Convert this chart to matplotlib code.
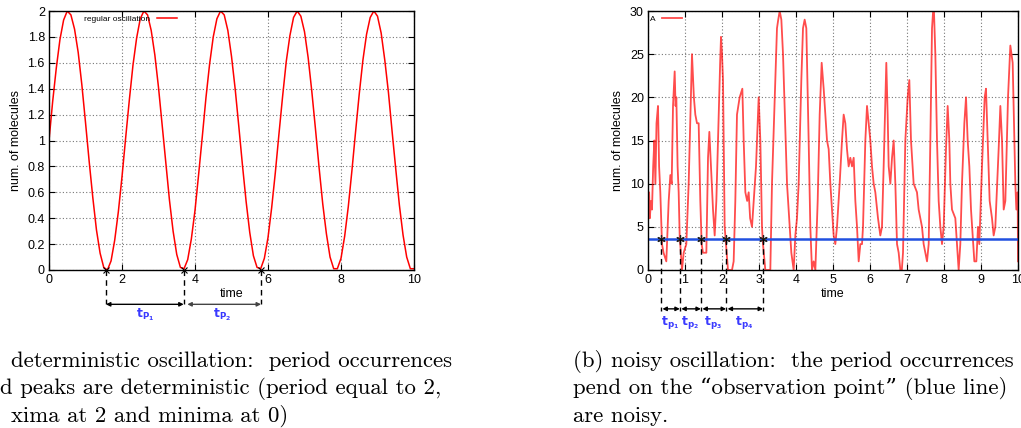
import numpy as np
import matplotlib
matplotlib.use('Agg')
import matplotlib.pyplot as plt

# ---- data ----
# left panel: regular oscillation sampled every 0.1 time units
reg_t = [i / 10 for i in range(101)]
reg_y = [1.00, 1.30, 1.56, 1.78, 1.93, 2.00, 1.97, 1.86, 1.68, 1.43,
         1.14, 0.84, 0.56, 0.31, 0.13, 0.02, 0.00, 0.07, 0.23, 0.45,
         0.72, 1.02, 1.31, 1.58, 1.79, 1.94, 2.00, 1.97, 1.85, 1.66,
         1.41, 1.12, 0.83, 0.54, 0.30, 0.12, 0.02, 0.01, 0.08, 0.24,
         0.46, 0.74, 1.03, 1.33, 1.59, 1.80, 1.94, 2.00, 1.97, 1.85,
         1.65, 1.40, 1.11, 0.81, 0.53, 0.29, 0.11, 0.02, 0.01, 0.09,
         0.25, 0.48, 0.75, 1.05, 1.34, 1.61, 1.81, 1.95, 2.00, 1.96,
         1.84, 1.64, 1.38, 1.09, 0.79, 0.51, 0.28, 0.10, 0.01, 0.01,
         0.09, 0.26, 0.49, 0.77, 1.07, 1.36, 1.62, 1.82, 1.95, 2.00,
         1.96, 1.83, 1.62, 1.37, 1.07, 0.78, 0.50, 0.27, 0.10, 0.01,
         0.01]
reg_minima = [1.56, 3.69, 5.81]
reg_labels = [r'$\mathbf{t_{P_1}}$', r'$\mathbf{t_{P_2}}$']

# right panel: noisy trace of species A (turning points)
noisy_t = [0.000, 0.030, 0.050, 0.080, 0.108, 0.140, 0.171, 0.200, 0.230, 0.270,
           0.300, 0.333, 0.378, 0.420, 0.495, 0.559, 0.604, 0.640, 0.676, 0.721,
           0.745, 0.766, 0.800, 0.829, 0.856, 0.919, 0.964, 1.036, 1.099, 1.189,
           1.240, 1.279, 1.324, 1.369, 1.414, 1.450, 1.486, 1.577, 1.622, 1.658,
           1.703, 1.757, 1.802, 1.847, 1.910, 1.950, 1.973, 2.000, 2.027, 2.072,
           2.108, 2.162, 2.270, 2.315, 2.360, 2.405, 2.477, 2.550, 2.586, 2.631,
           2.680, 2.721, 2.760, 2.811, 2.856, 2.919, 2.964, 2.991, 3.036, 3.081,
           3.108, 3.171, 3.306, 3.351, 3.441, 3.486, 3.520, 3.559, 3.604, 3.649,
           3.685, 3.757, 3.829, 3.874, 3.937, 3.982, 4.027, 4.072, 4.144, 4.189,
           4.234, 4.279, 4.342, 4.387, 4.432, 4.477, 4.523, 4.586, 4.640, 4.694,
           4.748, 4.793, 4.838, 4.883, 4.928, 4.973, 5.018, 5.063, 5.108, 5.180,
           5.243, 5.288, 5.333, 5.378, 5.423, 5.468, 5.514, 5.559, 5.604, 5.649,
           5.694, 5.739, 5.784, 5.811, 5.874, 5.919, 5.964, 6.009, 6.054, 6.099,
           6.144, 6.216, 6.279, 6.324, 6.369, 6.441, 6.477, 6.505, 6.550, 6.595,
           6.640, 6.685, 6.730, 6.775, 6.820, 6.860, 6.892, 6.955, 7.018, 7.063,
           7.108, 7.180, 7.270, 7.315, 7.360, 7.405, 7.450, 7.495, 7.541, 7.586,
           7.631, 7.676, 7.721, 7.766, 7.811, 7.856, 7.901, 7.946, 7.991, 8.054,
           8.099, 8.144, 8.171, 8.216, 8.306, 8.351, 8.396, 8.441, 8.486, 8.550,
           8.595, 8.640, 8.685, 8.730, 8.775, 8.820, 8.874, 8.919, 8.955, 9.027,
           9.099, 9.135, 9.180, 9.234, 9.297, 9.342, 9.387, 9.477, 9.523, 9.568,
           9.613, 9.658, 9.730, 9.793, 9.856, 9.901, 9.928, 9.955, 9.991, 10.000]
noisy_a = [7, 9, 6, 8, 7, 12, 15, 10, 17, 19,
           12, 9, 3, 2, 1, 8, 11, 10, 19, 23,
           19, 20, 12, 9, 4, 0, 2, 3, 10, 25,
           20, 18, 17, 17, 8, 3, 2, 2, 13, 16,
           12, 7, 4, 8, 18, 24, 27, 25, 22, 5,
           3, 0, 0, 1, 8, 18, 20, 21, 15, 9,
           8, 9, 6, 5, 8, 12, 17, 20, 15, 5,
           3, 0, 0, 10, 22, 28, 29, 30, 29, 25,
           20, 10, 5, 2, 0, 4, 6, 10, 22, 28,
           29, 28, 15, 5, 0, 1, 0, 8, 18, 24,
           21, 18, 15, 14, 10, 7, 4, 3, 5, 10,
           15, 18, 17, 14, 12, 13, 12, 13, 8, 5,
           1, 3, 3, 5, 15, 19, 17, 15, 12, 10,
           9, 6, 4, 5, 12, 24, 18, 12, 10, 13,
           15, 10, 3, 2, 0, 0, 2, 15, 20, 22,
           15, 10, 9, 7, 6, 5, 3, 2, 1, 3,
           15, 28, 31, 25, 15, 8, 5, 3, 5, 14,
           19, 15, 10, 7, 6, 3, 0, 3, 10, 17,
           20, 15, 12, 7, 4, 1, 1, 5, 3, 12,
           20, 21, 15, 8, 6, 4, 5, 14, 19, 15,
           7, 8, 20, 26, 24, 15, 10, 7, 9, 1]
obs_level = 3.6
obs_cross = [0.35, 0.86, 1.43, 2.11, 3.11]
noisy_labels = [r'$\mathbf{t_{p_1}}$', r'$\mathbf{t_{p_2}}$',
                r'$\mathbf{t_{p_3}}$', r'$\mathbf{t_{p_4}}$']

cap_a = ['deterministic oscillation:  period occurrences',
         'd peaks are deterministic (period equal to 2,',
         'xima at 2 and minima at 0)']
cap_b = ['(b) noisy oscillation:  the period occurrences',
         'pend on the \u201cobservation point\u201d (blue line)',
         'are noisy.']

plt.rcParams['font.family'] = ['Liberation Sans', 'DejaVu Sans']
plt.rcParams['font.size'] = 9
blue_lbl = '#3a3aff'

fig = plt.figure(figsize=(10.21, 4.28), dpi=100)
ax1 = fig.add_axes([49 / 1021, 158 / 428, 365 / 1021, 259 / 428])
ax2 = fig.add_axes([648 / 1021, 158 / 428, 370 / 1021, 259 / 428])


def gnuplot_frame(ax):
    ax.grid(True, color='#777777', linestyle=(0, (1, 2)), linewidth=0.8)
    ax.tick_params(direction='in', top=True, right=True, length=4, width=0.8,
                   labelsize=9, pad=3)
    for s in ax.spines.values():
        s.set_linewidth(1.0)
    ax.set_xlabel('time', labelpad=1)
    ax.set_ylabel('num. of molecules', labelpad=4)


# ---- left panel ----
ax1.plot(reg_t, reg_y, color='red', lw=1.1, label='regular oscillation')
ax1.set_xlim(0, 10)
ax1.set_ylim(0, 2)
ax1.set_xticks(range(0, 11, 2))
ax1.set_yticks(np.arange(0, 2.01, 0.2))
ax1.set_yticklabels(['0', '0.2', '0.4', '0.6', '0.8', '1', '1.2', '1.4',
                     '1.6', '1.8', '2'])
gnuplot_frame(ax1)
ax1.legend(loc='upper left', bbox_to_anchor=(0.08, 1.008), frameon=False,
           markerfirst=False, fontsize=6, handlelength=2.4, borderpad=0.2)

for x in reg_minima:
    ax1.plot([x], [0], marker='x', color='black', ms=4, mew=0.8, clip_on=False)
    ax1.plot([x, x], [0, -0.26], color='black', ls=(0, (4, 3)), lw=1,
             clip_on=False)
ya = -0.265
ax1.annotate('', xy=(reg_minima[1], ya), xytext=(reg_minima[0], ya),
             arrowprops=dict(arrowstyle='<|-|>', color='black', lw=1,
                             shrinkA=0, shrinkB=0, mutation_scale=6),
             annotation_clip=False)
ax1.annotate('', xy=(reg_minima[2], ya), xytext=(reg_minima[1] + 0.1, ya),
             arrowprops=dict(arrowstyle='<|-|>', color='#444444', lw=1,
                             shrinkA=0, shrinkB=0, mutation_scale=6),
             annotation_clip=False)
for i, lbl in enumerate(reg_labels):
    xm = (reg_minima[i] + reg_minima[i + 1]) / 2
    ax1.text(xm, -0.285, lbl, color=blue_lbl, fontsize=9, ha='center', va='top',
             clip_on=False)

# ---- right panel ----
ax2.plot(noisy_t, noisy_a, color='#ff0000', lw=1.3, alpha=0.7, label='A')
ax2.axhline(obs_level, color='#2050e0', lw=1.8)
ax2.set_xlim(0, 10)
ax2.set_ylim(0, 30)
ax2.set_xticks(range(0, 11))
ax2.set_yticks(range(0, 31, 5))
gnuplot_frame(ax2)
ax2.legend(loc='upper left', bbox_to_anchor=(-0.01, 1.008), frameon=False,
           markerfirst=False, fontsize=6, handlelength=2.4, borderpad=0.2)

for x in obs_cross:
    ax2.plot([x], [obs_level], marker=(6, 2, 0), color='#222222', ms=6, mew=0.9,
             clip_on=False)
    ax2.plot([x, x], [obs_level, -4.8], color='black', ls=(0, (4, 3)), lw=1,
             clip_on=False)
yb = -4.5
for i, lbl in enumerate(noisy_labels):
    ax2.annotate('', xy=(obs_cross[i + 1], yb), xytext=(obs_cross[i] + 0.04, yb),
                 arrowprops=dict(arrowstyle='<|-|>', color='black', lw=1,
                                 shrinkA=0, shrinkB=0, mutation_scale=6),
                 annotation_clip=False)
    xm = (obs_cross[i] + obs_cross[i + 1]) / 2
    ax2.text(xm, -5.1, lbl, color=blue_lbl, fontsize=9, ha='center', va='top',
             clip_on=False)

# ---- captions ----
cap_font = ['cmr10', 'DejaVu Serif']
for k, (x0, lines) in enumerate([(11, cap_a), (573, cap_b)]):
    for j, line in enumerate(lines):
        xs = x0
        if k == 0 and j == 1:
            xs = 0
        fig.text(xs / 1021, 1 - (367 + 27.5 * j) / 428, line, family=cap_font,
                 fontsize=16.4, va='baseline', ha='left')

fig.savefig('out.png', dpi=100)
